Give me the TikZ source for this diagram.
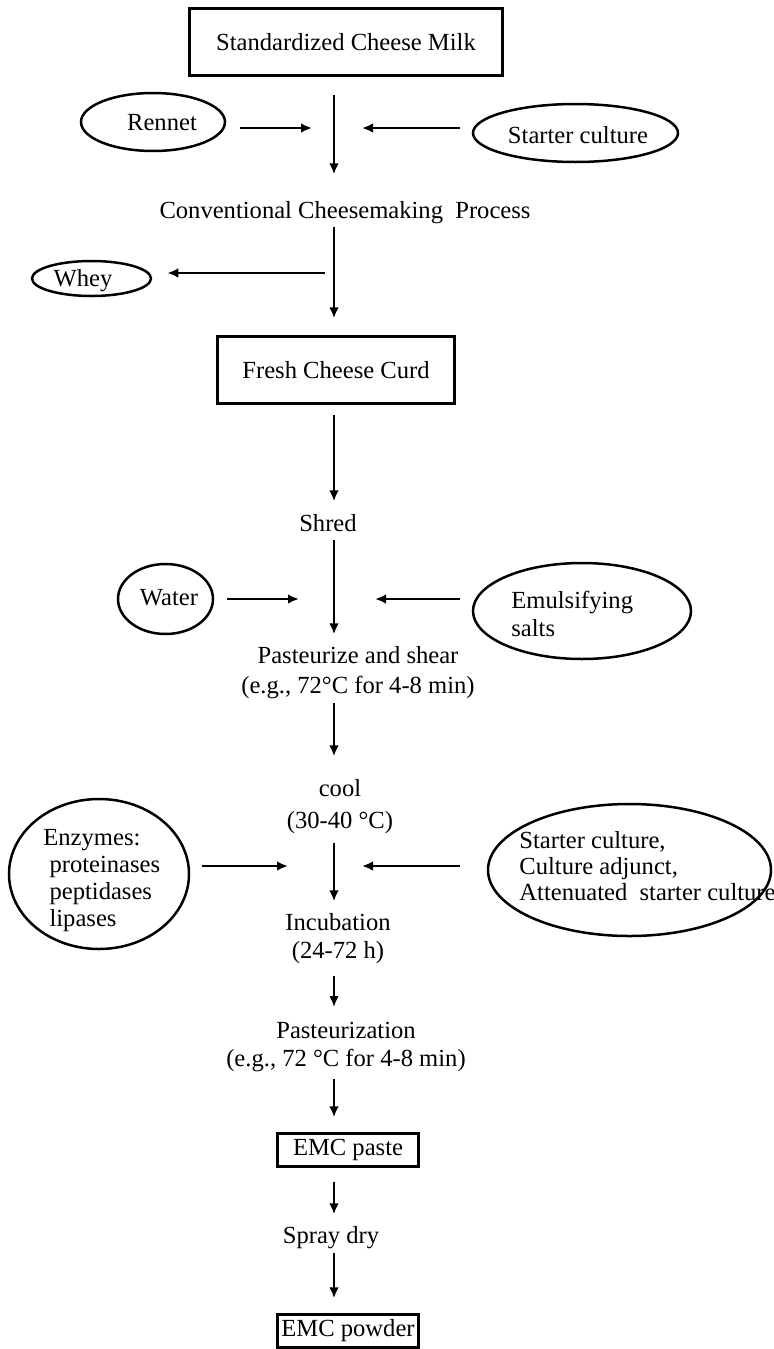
\documentclass[tikz,border=0pt]{standalone}
\usepackage{fontspec}
\setmainfont{Liberation Serif}
\usetikzlibrary{arrows.meta,shapes.geometric}
\newcommand{\lsk}[1]{\fontsize{12.3pt}{#1}\selectfont}

\begin{document}
\begin{tikzpicture}[x=0.5pt,y=-0.5pt,
  every node/.style={font=\lsk{14pt}},
  flowbox/.style={draw, line width=1.7pt, rectangle, inner sep=0pt},
  source/.style={draw, line width=1.25pt, ellipse, inner sep=0pt},
  txt/.style={inner sep=0pt, anchor=base},
  txtl/.style={inner sep=0pt, anchor=base west, align=left},
  txtc/.style={inner sep=0pt, anchor=base, align=center},
  flow/.style={line width=1.45pt, -{Latex[length=5.5pt,width=4.8pt]}},
]
\useasboundingbox (0,0) rectangle (774,1349);
\fill[white] (0,0) rectangle (774,1349);

% main column of the process (multi-line labels sit on their last baseline)
\coordinate (sp) at (334,0);
\node[flowbox, minimum width=156.5pt, minimum height=33.5pt] (milk) at (346,42) {Standardized Cheese Milk};
\node[txt] (conv) at (345,218) {Conventional Cheesemaking\ \ Process};
\node[flowbox, minimum width=118.5pt, minimum height=33.5pt] (curd) at (336,370) {Fresh Cheese Curd};
\node[txt] (shred) at (328,531) {Shred};
\node[txtc, font=\lsk{15pt}] (past) at (358,693) {Pasteurize and shear\\(e.g., 72°C for 4-8 min)};
\node[txtc, font=\lsk{16pt}] (cool) at (340,828) {cool\\(30-40 °C)};
\node[txtc, font=\lsk{14pt}] (incub) at (338,958) {Incubation\\(24-72 h)};
\node[txtc, font=\lsk{14pt}] (pastz) at (346,1066) {Pasteurization\\(e.g., 72 °C for 4-8 min)};
\node[flowbox, minimum width=70.5pt, minimum height=16.5pt] (paste) at (348,1150) {EMC paste};
\node[txt] (spray) at (331,1243) {Spray dry};
\node[flowbox, minimum width=70.5pt, minimum height=16.5pt] (powder) at (348,1331) {EMC powder};

% inputs and outputs
\node[source, minimum width=72pt, minimum height=29pt] (rennet) at (153,122) {};
\node[txt] (rennetT) at (162,130) {Rennet};
\node[source, minimum width=102.5pt, minimum height=29pt] (starter) at (575.5,133) {};
\node[txt] (starterT) at (578,143) {Starter culture};
\node[source, minimum width=59.5pt, minimum height=17.5pt] (whey) at (91.5,278.5) {};
\node[txt] (wheyT) at (83,286) {Whey};
\node[source, minimum width=47.5pt, minimum height=35pt] (water) at (165.5,599) {};
\node[txt] (waterT) at (169,605) {Water};
\node[source, minimum width=109pt, minimum height=48pt] (salts) at (582,611) {};
\node[txtl, font=\lsk{14pt}] (saltsT) at (511,636) {Emulsifying\\salts};
\node[source, minimum width=90pt, minimum height=75pt] (enz) at (99,874) {};
\node[txtl, font=\lsk{13.5pt}] (enzT) at (43,926) {Enzymes:\\\ proteinases\\\ peptidases\\\ lipases};
\node[source, minimum width=141.5pt, minimum height=66pt] (cult) at (629.5,870) {};
\node[txtl, font=\lsk{13pt}] (cultT) at (519,900) {Starter culture,\\Culture adjunct,\\Attenuated\ \ starter culture};

% junction points beside the main column
\coordinate (inA) at (312,128);
\coordinate (inB) at (362,128);
\coordinate (outW) at (325,273);
\coordinate (inC) at (299,599);
\coordinate (inD) at (375,599);
\coordinate (inE) at (288,866);
\coordinate (inF) at (362,866);

% vertical flow
\draw[flow, shorten <=8.75pt, shorten >=13.1pt] (sp |- milk.south) -- (sp |- conv.north);
\draw[flow, shorten <=1.4pt, shorten >=8.25pt] (sp |- conv.south) -- (sp |- curd.north);
\draw[flow, shorten <=4.75pt, shorten >=6.1pt] (sp |- curd.south) -- (sp |- shred.north);
\draw[flow, shorten <=4.4pt, shorten >=5.6pt] (sp |- shred.south) -- (sp |- past.north);
\draw[flow, shorten <=2.35pt, shorten >=11.1pt] (sp |- past.south) -- (sp |- cool.north);
\draw[flow, shorten <=4.5pt, shorten >=5.6pt] (sp |- cool.south) -- (sp |- incub.north);
\draw[flow, shorten <=6pt, shorten >=7.1pt] (sp |- incub.south) -- (sp |- pastz.north);
\draw[flow, shorten <=3.5pt, shorten >=7.25pt] (sp |- pastz.south) -- (sp |- paste.north);
\draw[flow, shorten <=6.75pt, shorten >=5.6pt] (sp |- paste.south) -- (sp |- spray.north);
\draw[flow, shorten <=2.35pt, shorten >=7.25pt] (sp |- spray.south) -- (sp |- powder.north);

% side arrows
\draw[flow, shorten <=7pt] (rennet.east |- inA) -- (inA);
\draw[flow, shorten <=6pt] (starter.west |- inB) -- (inB);
\draw[flow, shorten >=7.5pt] (outW) -- (whey.east |- outW);
\draw[flow, shorten <=6.5pt] (water.east |- inC) -- (inC);
\draw[flow, shorten <=6pt] (salts.west |- inD) -- (inD);
\draw[flow, shorten <=6pt] (enz.east |- inE) -- (inE);
\draw[flow, shorten <=13.5pt] (cult.west |- inF) -- (inF);
\end{tikzpicture}
\end{document}
